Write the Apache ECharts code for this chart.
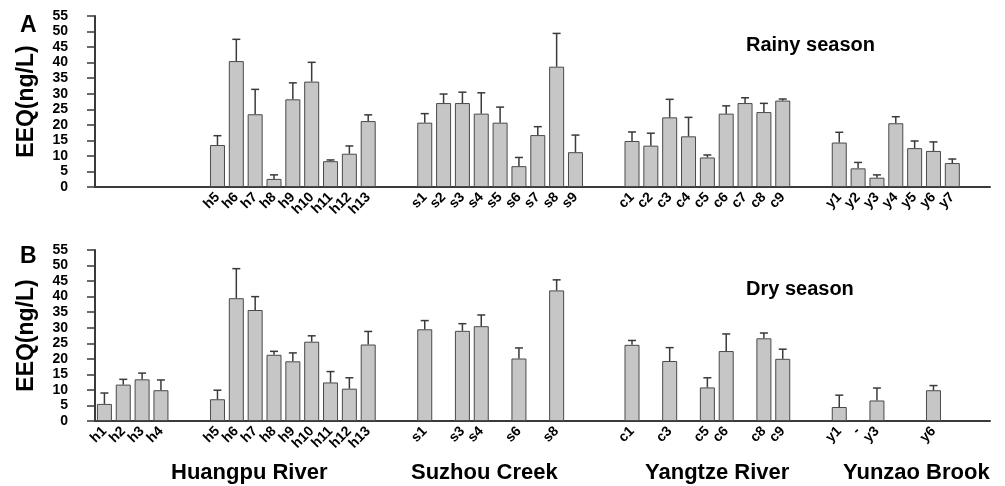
<!DOCTYPE html>
<html><head><meta charset="utf-8">
<script src="https://cdn.jsdelivr.net/npm/echarts@6/dist/echarts.min.js"></script>
<style>html,body{margin:0;padding:0;background:#fff}#c{width:1005px;height:486px}</style>
</head><body><div id="c"></div>
<script>
// ---- slot structure (blank strings = gaps between rivers) ----
const rainyLabels = ['','','','','','',
  'h5','h6','h7','h8','h9','h10','h11','h12','h13','','',
  's1','s2','s3','s4','s5','s6','s7','s8','s9','','',
  'c1','c2','c3','c4','c5','c6','c7','c8','c9','','',
  'y1','y2','y3','y4','y5','y6','y7'];
const dryLabels = ['h1','h2','h3','h4','','',
  'h5','h6','h7','h8','h9','h10','h11','h12','h13','','',
  's1','','s3','s4','','s6','','s8','','','',
  'c1','','c3','','c5','c6','','c8','c9','','',
  'y1','-','y3','','','y6',''];

// ---- Rainy season (panel A) ----
const rainyMean = [null,null,null,null,null,null,
  13.5,40.5,23.4,2.6,28.2,33.9,8.3,10.7,21.2,null,null,
  20.7,27.0,27.0,23.6,20.7,6.7,16.7,38.7,11.2,null,null,
  14.8,13.3,22.4,16.3,9.5,23.6,27.0,24.1,27.8,null,null,
  14.3,6.0,3.0,20.5,12.5,11.6,7.7];
const rainyErr = [null,null,null,null,null,null,
  3.0,7.0,8.0,1.3,5.3,6.2,0.4,2.5,2.0,null,null,
  2.9,2.9,3.5,6.7,5.0,2.8,2.7,10.7,5.5,null,null,
  2.9,4.0,5.8,6.1,0.8,2.5,1.7,2.8,0.5,null,null,
  3.3,1.9,0.9,2.1,2.3,2.9,1.3];

// ---- Dry season (panel B) ----
const dryMean = [5.5,11.7,13.4,9.9,null,null,
  7.0,39.5,35.7,21.3,19.2,25.5,12.4,10.4,24.6,null,null,
  29.5,null,29.0,30.5,null,20.1,null,42.0,null,null,null,
  24.5,null,19.3,null,10.8,22.5,null,26.6,20.0,null,null,
  4.5,null,6.6,null,null,9.9,null];
const dryErr = [3.5,1.7,2.0,3.3,null,null,
  2.9,9.5,4.3,1.1,2.7,1.9,3.5,3.5,4.2,null,null,
  2.8,null,2.3,3.6,null,3.4,null,3.4,null,null,null,
  1.4,null,4.3,null,3.1,5.5,null,1.7,3.1,null,null,
  3.8,null,4.0,null,null,1.5,null];

const yTicks = {min:0, max:55, step:5};
const groupNames = ['Huangpu River','Suzhou Creek','Yangtze River','Yunzao Brook'];

const FONT = '"Liberation Sans", Arial, sans-serif';
const DARK = '#3a3a3a';

function pos(i){ return 2*i+1; }
function barData(mean){ const d=[]; mean.forEach((v,i)=>{ if(v!=null) d.push([pos(i),v]); }); return d; }
function errData(mean,err){ const d=[]; mean.forEach((v,i)=>{ if(v!=null && err[i]!=null) d.push([pos(i),v,err[i]]); }); return d; }
function labelFmt(labels){ return function(v){ if(v%2===1){ const i=(v-1)/2; return labels[i]||''; } return ''; }; }

function xAxisFor(g, labels){
  return {type:'value', gridIndex:g, min:0, max:95, interval:1,
    axisLine:{show:true, onZero:true, lineStyle:{color:DARK, width:2}},
    axisTick:{show:false}, splitLine:{show:false},
    axisLabel:{formatter:labelFmt(labels), rotate:45, margin:8, fontSize:14, fontWeight:'bold', color:'#000', fontFamily:FONT, hideOverlap:false}};
}
function yAxisFor(g){
  return {type:'value', gridIndex:g, min:yTicks.min, max:yTicks.max, interval:yTicks.step,
    name:'EEQ(ng/L)', nameLocation:'middle', nameRotate:90, nameGap:57,
    nameTextStyle:{fontSize:23, fontWeight:'bold', color:'#000', fontFamily:FONT},
    axisLine:{show:true, lineStyle:{color:DARK, width:2}},
    axisTick:{show:true, length:8, lineStyle:{color:DARK, width:1.5}},
    splitLine:{show:false},
    axisLabel:{margin:27, fontSize:14, fontWeight:'bold', color:'#000', fontFamily:FONT}};
}
function errRender(params, api){
  const x=api.value(0), m=api.value(1), e=api.value(2);
  const p0=api.coord([x,m]), p1=api.coord([x,m+e]);
  const hw=4;
  const st={stroke:DARK, lineWidth:1.5};
  return {type:'group', children:[
    {type:'line', shape:{x1:p0[0],y1:p0[1],x2:p1[0],y2:p1[1]}, style:st},
    {type:'line', shape:{x1:p1[0]-hw,y1:p1[1],x2:p1[0]+hw,y2:p1[1]}, style:st}
  ]};
}
const barStyle = {color:'#c6c6c6', borderColor:'#4a4a4a', borderWidth:1};

const titleStyle = (size)=>({fontSize:size, fontWeight:'bold', color:'#000', fontFamily:FONT});
const groupLefts = [166, 406, 640, 838];

const option = {
  animation:false,
  backgroundColor:'#fff',
  title:[
    {text:'A', left:15, top:9, textStyle:titleStyle(23)},
    {text:'B', left:15, top:240, textStyle:titleStyle(23)},
    {text:'Rainy season', left:741, top:30, textStyle:titleStyle(20)},
    {text:'Dry season', left:741, top:274, textStyle:titleStyle(20)}
  ].concat(groupNames.map((n,k)=>({text:n, left:groupLefts[k], top:457, textStyle:titleStyle(22)}))),
  grid:[
    {left:95, right:15, top:16, height:171},
    {left:95, right:15, top:250, height:171}
  ],
  xAxis:[xAxisFor(0, rainyLabels), xAxisFor(1, dryLabels)],
  yAxis:[yAxisFor(0), yAxisFor(1)],
  series:[
    {type:'bar', xAxisIndex:0, yAxisIndex:0, barWidth:15, data:barData(rainyMean), itemStyle:barStyle},
    {type:'custom', xAxisIndex:0, yAxisIndex:0, renderItem:errRender, data:errData(rainyMean,rainyErr), z:5},
    {type:'bar', xAxisIndex:1, yAxisIndex:1, barWidth:15, data:barData(dryMean), itemStyle:barStyle},
    {type:'custom', xAxisIndex:1, yAxisIndex:1, renderItem:errRender, data:errData(dryMean,dryErr), z:5}
  ]
};
const chart = echarts.init(document.getElementById('c'), null, {renderer:'canvas'});
chart.setOption(option);
</script></body></html>
